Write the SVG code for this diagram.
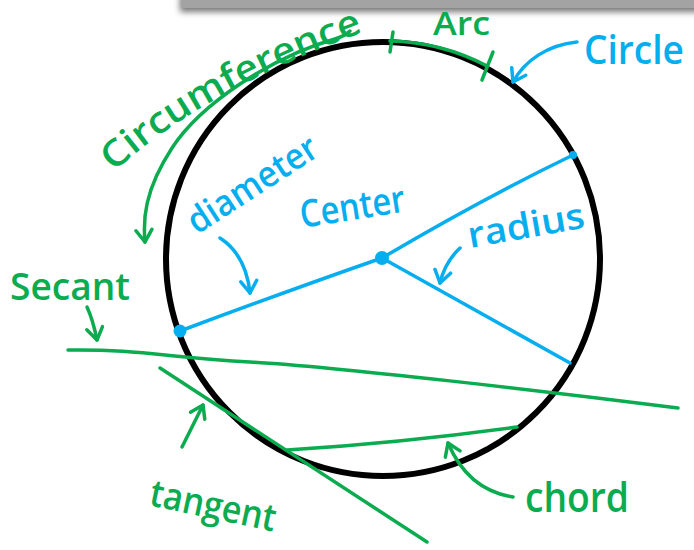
<svg xmlns="http://www.w3.org/2000/svg" width="694" height="550" viewBox="0 0 694 550">
<style>
.g{stroke:#0bab4f;fill:none;stroke-width:3.5;stroke-linecap:round;stroke-linejoin:round}
.b{stroke:#06aeef;fill:none;stroke-width:3.5;stroke-linecap:round;stroke-linejoin:round}
.tg{fill:#0bab4f;font-family:"Open Sans","Liberation Sans",sans-serif;font-weight:600}
.tb{fill:#06aeef;font-family:"Open Sans","Liberation Sans",sans-serif;font-weight:600}
</style>
<defs>
<marker id="ag" viewBox="0 0 20 20" refX="17" refY="10" markerWidth="20" markerHeight="20" markerUnits="userSpaceOnUse" orient="auto"><path d="M5 2 L17 10 L5 18" fill="none" stroke="#0bab4f" stroke-width="3.5" stroke-linecap="round" stroke-linejoin="round"/></marker>
<marker id="ab" viewBox="0 0 20 20" refX="17" refY="10" markerWidth="20" markerHeight="20" markerUnits="userSpaceOnUse" orient="auto"><path d="M5 2 L17 10 L5 18" fill="none" stroke="#06aeef" stroke-width="3.5" stroke-linecap="round" stroke-linejoin="round"/></marker>
<filter id="sh" x="-5%" y="-50%" width="110%" height="300%"><feGaussianBlur stdDeviation="3"/></filter>
<path id="cpath" d="M 114 172 Q 205 88 385 24"/>
</defs>
<rect width="694" height="550" fill="#ffffff"/>
<g id="topbar">
<rect x="180" y="-6" width="530" height="18" fill="#777" filter="url(#sh)"/>
<rect x="182" y="-6" width="520" height="14" fill="#a3a3a3"/>
</g>
<g id="circle">
<circle cx="383" cy="259" r="217" fill="none" stroke="#000" stroke-width="6"/>
</g>
<g id="connectors">
<path class="g" d="M 338 38 C 270 57, 200 105, 172 148 S 143 220 145 242" marker-end="url(#ag)"/>
<path class="g" d="M 338 38 Q 346 35 350 31"/>
<path class="g" d="M 390 41 A 218 218 0 0 1 487 66"/>
<path class="g" d="M 393 32 L 390 52"/>
<path class="g" d="M 493 52 L 482 80"/>
<path class="b" d="M 577 42 C 548 45, 525 60, 513 82" marker-end="url(#ab)"/>
<path class="b" d="M 180 331 Q 290 290 382 258 Q 480 200 573 155"/>
<path class="b" d="M 382 258 L 570 363"/>
<path class="b" d="M 220 238 Q 246 255 250 293" marker-end="url(#ab)"/>
<path class="b" d="M 460 248 Q 445 262 440 283" marker-end="url(#ab)"/>
<path class="g" d="M 68 350 C 140 349 170 358 250 362 S 560 393 678 408"/>
<path class="g" d="M 87 307 Q 93 320 97 340" marker-end="url(#ag)"/>
<path class="g" d="M 160 368 L 427 542"/>
<path class="g" d="M 182 447 L 203 405" marker-end="url(#ag)"/>
<path class="g" d="M 287 450 Q 400 443 517 427"/>
<path class="g" d="M 513 497 Q 468 490 448 443" marker-end="url(#ag)"/>
<circle cx="180" cy="331" r="6.5" fill="#06aeef"/>
<circle cx="382" cy="258" r="7" fill="#06aeef"/>
<circle cx="573" cy="155" r="4" fill="#06aeef"/>
</g>
<g id="label-circle"><text class="tb" x="584" y="64" font-size="40" textLength="100" lengthAdjust="spacingAndGlyphs">Circle</text></g>
<g id="label-arc"><text class="tg" x="433" y="35" font-size="32" textLength="57" lengthAdjust="spacingAndGlyphs">Arc</text></g>
<g id="label-circumference"><text class="tg" font-size="37"><textPath href="#cpath" textLength="288" lengthAdjust="spacingAndGlyphs">Circumference</textPath></text></g>
<g id="label-diameter"><text class="tb" x="0" y="0" font-size="36" textLength="148" lengthAdjust="spacingAndGlyphs" transform="translate(197 235) rotate(-33)">diameter</text></g>
<g id="label-center"><text class="tb" x="0" y="0" font-size="38" textLength="106" lengthAdjust="spacingAndGlyphs" transform="translate(302 228) rotate(-9)">Center</text></g>
<g id="label-radius"><text class="tb" x="0" y="0" font-size="36" textLength="118" lengthAdjust="spacingAndGlyphs" transform="translate(470 248) rotate(-10)">radius</text></g>
<g id="label-secant"><text class="tg" x="10" y="300" font-size="38" textLength="120" lengthAdjust="spacingAndGlyphs">Secant</text></g>
<g id="label-tangent"><text class="tg" x="0" y="0" font-size="38" textLength="128" lengthAdjust="spacingAndGlyphs" transform="translate(148 505) rotate(12)">tangent</text></g>
<g id="label-chord"><text class="tg" x="525" y="512" font-size="42" textLength="104" lengthAdjust="spacingAndGlyphs">chord</text></g>
</svg>
